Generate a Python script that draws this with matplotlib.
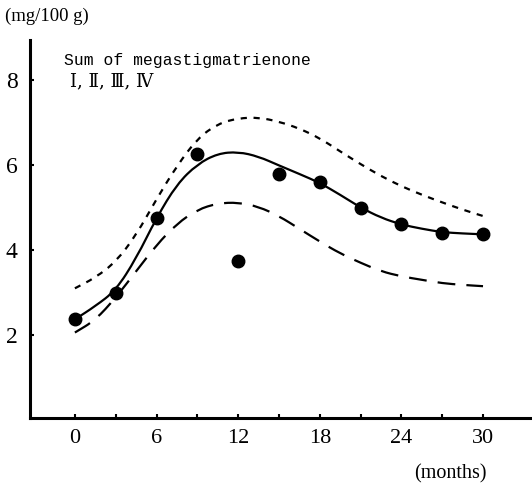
import matplotlib
matplotlib.use("Agg")
import matplotlib.pyplot as plt
from matplotlib.path import Path
from matplotlib.patches import PathPatch

# data points (months, mg/100 g)
months = [0, 3, 6, 9, 12, 15, 18, 21, 24, 27, 30]
values = [2.37, 2.98, 4.76, 6.26, 3.75, 5.80, 5.61, 5.00, 4.61, 4.39, 4.38]

# curves
curve_x = [0, 1.5, 3, 4.5, 6, 7.5, 9, 10.5, 12, 13.5, 15, 16.5, 18, 19.5,
           21, 22.5, 24, 25.5, 27, 28.5, 30]
mean_curve = [2.37, 2.68, 3.05, 3.8, 4.76, 5.55, 6.02, 6.27, 6.31, 6.2, 5.99,
              5.79, 5.58, 5.3, 5.0, 4.76, 4.6, 4.5, 4.42, 4.39, 4.37]
upper_curve = [3.1, 3.35, 3.72, 4.35, 5.2, 5.98, 6.62, 6.97, 7.1, 7.12, 7.02,
               6.86, 6.63, 6.32, 6.02, 5.74, 5.5, 5.3, 5.12, 4.95, 4.8]
lower_curve = [2.06, 2.35, 2.88, 3.5, 4.12, 4.62, 4.95, 5.1, 5.12, 5.02, 4.8,
               4.5, 4.2, 3.92, 3.7, 3.5, 3.38, 3.3, 3.22, 3.18, 3.15]

x_ticks = [0, 6, 12, 18, 24, 30]
x_minor = [3, 9, 15, 21, 27]
y_ticks = [2, 4, 6, 8]


def smooth_path(xs, ys):
    pts = list(zip(xs, ys))
    verts = [pts[0]]
    codes = [Path.MOVETO]
    mid = lambda a, b: ((a[0] + b[0]) / 2, (a[1] + b[1]) / 2)
    verts.append(mid(pts[0], pts[1]))
    codes.append(Path.LINETO)
    for i in range(1, len(pts) - 1):
        verts += [pts[i], mid(pts[i], pts[i + 1])]
        codes += [Path.CURVE3, Path.CURVE3]
    verts.append(pts[-1])
    codes.append(Path.LINETO)
    return Path(verts, codes)


fig = plt.figure(figsize=(5.32, 4.90), dpi=100)
ax = fig.add_axes([30/532, 72/490, 502/532, 378/490])

for ys, ls in [(mean_curve, "-"), (upper_curve, (0, (2.8, 3.0))),
               (lower_curve, (0, (8, 5)))]:
    ax.add_patch(PathPatch(smooth_path(curve_x, ys), fill=False,
                           edgecolor="black", lw=1.6, linestyle=ls,
                           transform=ax.transData))
ax.plot(months, values, "o", color="black", ms=9, zorder=5)

ax.set_xlim(-3.3, 33.6)
ax.set_ylim(0.05, 8.94)

for s in ["top", "right"]:
    ax.spines[s].set_visible(False)
ax.spines["left"].set_linewidth(2.2)
ax.spines["bottom"].set_linewidth(2.2)

ax.set_xticks(x_ticks)
ax.set_xticks(x_minor, minor=True)
ax.set_yticks(y_ticks)
ax.tick_params(axis="both", which="both", direction="in", length=3, width=1.5)
ax.tick_params(axis="x", pad=8)
ax.tick_params(axis="y", pad=9)
ax.set_xticklabels([str(t) for t in x_ticks],
                   fontdict=dict(family="Liberation Serif", size=16))
ax.set_yticklabels([str(t) for t in y_ticks],
                   fontdict=dict(family="Liberation Serif", size=17))

fig.text(5/532, 1 - 16/490, "(mg/100 g)", family="Liberation Serif",
         fontsize=13.5, va="center", ha="left")
fig.text(450/532, 1 - 474/490, "(months)", family="Liberation Serif",
         fontsize=14.5, va="center", ha="center")
fig.text(64/532, 1 - 60/490, "Sum of megastigmatrienone",
         family="Liberation Mono", fontsize=11.8, va="center", ha="left")
fig.text(70/532, 1 - 81/490, "\u2160, \u2161, \u2162, \u2163",
         family=["DejaVu Serif", "DejaVu Sans", "Noto Sans CJK JP"],
         fontsize=13, va="center", ha="left")

fig.savefig("out.png", dpi=100)
